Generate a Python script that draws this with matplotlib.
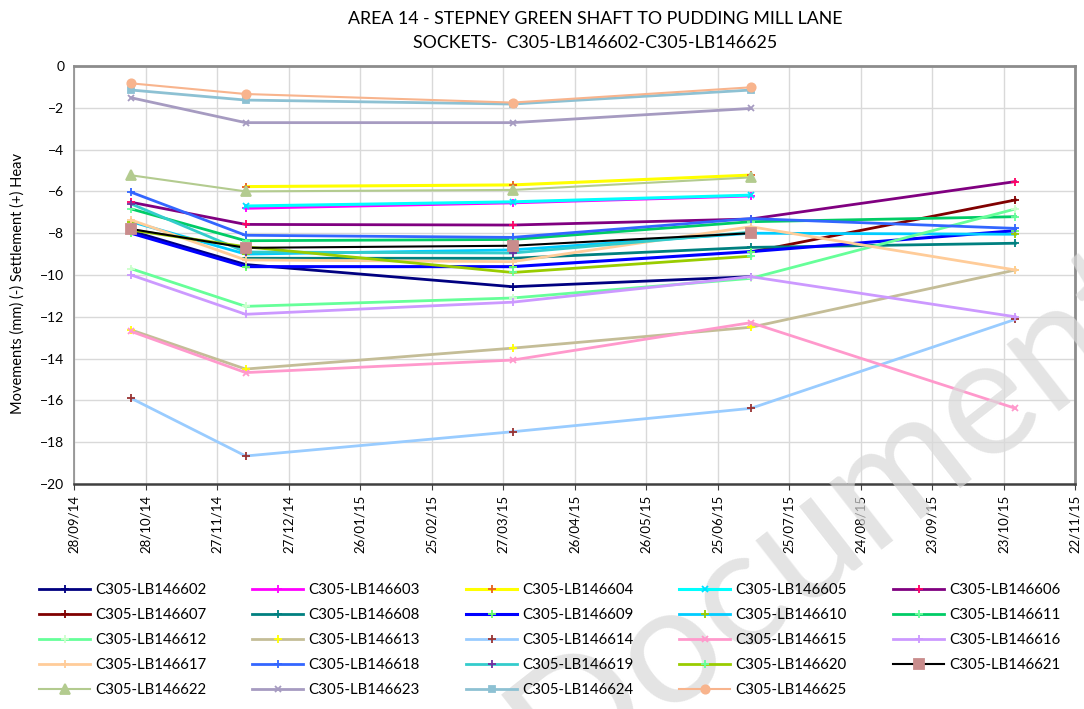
import datetime as dt

import matplotlib
matplotlib.use("Agg")
import matplotlib.dates as mdates
import matplotlib.pyplot as plt
import numpy as np
import pandas as pd

nan = np.nan

# survey dates
dates = pd.to_datetime(["2014-10-22", "2014-12-09", "2015-03-31", "2015-07-09", "2015-10-28"])

names = [f"C305-LB1466{i:02d}" for i in range(2, 26)]

v602 = [-7.9, -9.5, -10.56, -10.08, nan]
v603 = [nan, -6.81, -6.55, -6.22, nan]
v604 = [nan, -5.77, -5.69, -5.22, nan]
v605 = [nan, -6.7, -6.5, -6.18, nan]
v606 = [-6.52, -7.58, -7.61, -7.32, -5.53]
v607 = [nan, nan, nan, -8.9, -6.41]
v608 = [nan, -9.2, -9.2, -8.68, -8.48]
v609 = [-8.0, -9.6, -9.6, -8.88, -7.88]
v610 = [-7.45, -9.0, -8.8, -8.0, -8.05]
v611 = [-6.84, -8.36, -8.3, -7.45, -7.21]
v612 = [-9.7, -11.5, -11.1, -10.16, -6.84]
v613 = [-12.63, -14.5, -13.5, -12.5, -9.76]
v614 = [-15.9, -18.66, -17.5, -16.38, -12.12]
v615 = [-12.7, -14.67, -14.07, -12.28, -16.38]
v616 = [-10.0, -11.88, -11.3, -10.08, -12.0]
v617 = [-7.37, -9.28, -9.36, -7.69, -9.76]
v618 = [-6.04, -8.1, -8.2, -7.3, -7.77]
v619 = [-6.6, -8.9, -8.95, -7.95, nan]
v620 = [-7.85, -8.65, -9.88, -9.1, nan]
v621 = [-7.8, -8.7, -8.6, -8.0, nan]
v622 = [-5.23, -6.0, -5.93, -5.33, nan]
v623 = [-1.52, -2.71, -2.71, -2.03, nan]
v624 = [-1.15, -1.63, -1.82, -1.15, nan]
v625 = [-0.83, -1.34, -1.75, -1.02, nan]

values = [v602, v603, v604, v605, v606, v607, v608, v609, v610, v611, v612, v613,
          v614, v615, v616, v617, v618, v619, v620, v621, v622, v623, v624, v625]

# (line colour, marker, marker colour, marker size, line width)
styles = [
    ("#000080", "+", "#000080", 6, 2.0),
    ("#FF00FF", "+", "#FF00FF", 6, 2.0),
    ("#FFFF00", "+", "#E8601C", 6, 2.2),
    ("#00FFFF", "x", "#00E0FF", 5, 2.2),
    ("#800080", "+", "#FF0066", 6, 2.0),
    ("#800000", "+", "#800000", 6, 2.0),
    ("#008080", "+", "#008080", 6, 2.0),
    ("#0000FF", "+", "#66FF66", 6, 2.2),
    ("#00CCFF", "+", "#99CC00", 6, 2.0),
    ("#00CC66", "+", "#66FF99", 6, 2.0),
    ("#66FF99", "+", "#CCFFCC", 6, 2.0),
    ("#C4BD97", "+", "#FFFF00", 6, 2.0),
    ("#99CCFF", "+", "#993333", 6, 2.0),
    ("#FF99CC", "x", "#FF99CC", 5, 2.0),
    ("#CC99FF", "+", "#CC99FF", 6, 2.0),
    ("#FFCC99", "+", "#FFCC99", 6, 2.0),
    ("#3366FF", "+", "#3366FF", 6, 2.0),
    ("#33CCCC", "+", "#7030A0", 6, 2.0),
    ("#99CC00", "+", "#66FF99", 6, 2.0),
    ("#000000", "s", "#C98C8C", 7, 1.5),
    ("#B3CB8F", "^", "#B3CB8F", 7, 1.5),
    ("#A69BC1", "x", "#A69BC1", 5, 2.0),
    ("#8DC1D3", "s", "#8DC1D3", 5, 2.0),
    ("#F8B48D", "o", "#F8B48D", 6, 1.5),
]

title = "AREA 14 - STEPNEY GREEN SHAFT TO PUDDING MILL LANE\nSOCKETS-  C305-LB146602-C305-LB146625"
ylabel = "Movements (mm) (-) Settlement (+) Heav"

plt.rcParams["font.family"] = ["Lato", "DejaVu Sans"]

W, H = 1084, 709
fig = plt.figure(figsize=(W / 100, H / 100), dpi=100)
ax = fig.add_axes([74 / W, 1 - 484 / H, (1075 - 74) / W, (484 - 66) / H])

handles = []
for name, vals, (col, mk, mcol, ms, lw) in zip(names, values, styles):
    (ln,) = ax.plot(dates, vals, color=col, lw=lw, marker=mk, ms=ms, mfc=mcol,
                    mec=mcol, mew=1.3, label=name)
    handles.append(ln)

ax.set_xlim(dt.datetime(2014, 9, 28), dt.datetime(2015, 11, 22))
ax.set_ylim(-20, 0)
ax.set_yticks(np.arange(-20, 1, 2))
ax.set_xticks(pd.date_range("2014-09-28", periods=15, freq="30D"))
ax.xaxis.set_major_formatter(mdates.DateFormatter("%d/%m/%y"))
ax.tick_params(axis="x", labelrotation=90, labelsize=9.5, length=4, color="#404040")
ax.tick_params(axis="y", labelsize=10, length=0, pad=7)
ax.grid(True, color="#d9d9d9", lw=1.0)
ax.set_axisbelow(True)
for side in ["top", "right"]:
    ax.spines[side].set_color("#8c8c8c")
    ax.spines[side].set_linewidth(2)
ax.spines["bottom"].set_color("#404040")
ax.spines["bottom"].set_linewidth(1.8)
ax.spines["left"].set_color("#8c8c8c")
ax.spines["left"].set_linewidth(1.2)

fig.text(595 / W, 1 - 31 / H, title, ha="center", va="center", fontsize=12.8,
         linespacing=1.6)
fig.text(18 / W, 1 - 283 / H, ylabel, rotation=90, ha="center", va="center",
         fontsize=10.5)

# legend laid out row by row, one legend per column
col_x = [36, 249, 463, 676, 890]
for c, x in enumerate(col_x):
    fig.legend(handles=handles[c::5], loc="upper left",
               bbox_to_anchor=(x / W, 1 - 580 / H), frameon=False, fontsize=10.8,
               handlelength=3.4, handletextpad=0.35, labelspacing=0.74,
               borderaxespad=0, borderpad=0.2)

fig.text(835 / W, 1 - 515 / H, "Document", rotation=38, ha="center", va="center",
         fontsize=120, color="#d9d9d9", alpha=0.7)

fig.savefig("out.png", dpi=100)
